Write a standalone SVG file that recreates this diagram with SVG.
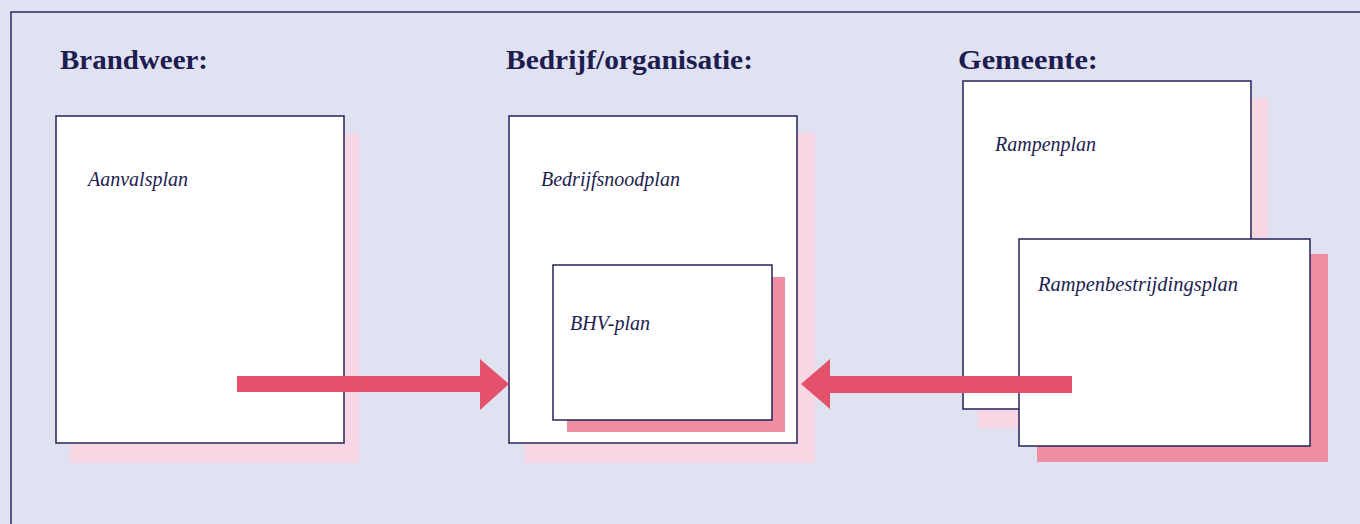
<svg xmlns="http://www.w3.org/2000/svg" width="1360" height="524" viewBox="0 0 1360 524">
<defs>
<style>
.bg{fill:#e0e1f1}
.frame{fill:none;stroke:#2a2a5e;stroke-width:1.5}
.box{fill:#ffffff;stroke:#23235a;stroke-width:1.5}
.sh1{fill:#f8d6e3}
.sh2{fill:#ef8ea2}
.arrow{fill:#e4516a}
.h{font-family:"Liberation Serif","DejaVu Serif",serif;font-weight:bold;font-size:28px;fill:#1d1d50}
.t{font-family:"Liberation Serif","DejaVu Serif",serif;font-style:italic;font-size:20px;fill:#1d1d50}
</style>
</defs>
<rect class="bg" x="0" y="0" width="1360" height="524"/>
<rect class="frame" x="11" y="12" width="1400" height="600"/>
<g id="headings">
<text class="h" x="60" y="69" textLength="148" lengthAdjust="spacingAndGlyphs">Brandweer:</text>
<text class="h" x="506" y="69" textLength="247" lengthAdjust="spacingAndGlyphs">Bedrijf/organisatie:</text>
<text class="h" x="958" y="69" textLength="140" lengthAdjust="spacingAndGlyphs">Gemeente:</text>
</g>
<g id="aanvalsplan">
<rect class="sh1" x="70" y="134" width="289" height="329"/>
<rect class="box" x="56" y="116" width="288" height="327"/>
<text class="t" x="88" y="186">Aanvalsplan</text>
</g>
<g id="bedrijfsnoodplan">
<rect class="sh1" x="525" y="133" width="290" height="330"/>
<rect class="box" x="509" y="116" width="288" height="327"/>
<text class="t" x="541" y="186">Bedrijfsnoodplan</text>
</g>
<g id="bhv-plan">
<rect class="sh2" x="567" y="277" width="218" height="155"/>
<rect class="box" x="553" y="265" width="219" height="155"/>
<text class="t" x="570" y="330">BHV-plan</text>
</g>
<g id="rampenplan">
<rect class="sh1" x="978" y="98" width="290" height="330"/>
<rect class="box" x="963" y="81" width="288" height="328"/>
<text class="t" x="995" y="151">Rampenplan</text>
</g>
<g id="rampenbestrijdingsplan">
<rect class="sh2" x="1037" y="254" width="291" height="208"/>
<rect class="box" x="1019" y="239" width="291" height="207"/>
<text class="t" x="1038" y="291" textLength="200" lengthAdjust="spacingAndGlyphs">Rampenbestrijdingsplan</text>
</g>
<g id="connectors">
<polygon class="arrow" points="237,376 480,376 480,359 509,384 480,410 480,392 237,392"/>
<polygon class="arrow" points="1072,376 830,376 830,359 801,384 830,409 830,393 1072,393"/>
</g>
</svg>
